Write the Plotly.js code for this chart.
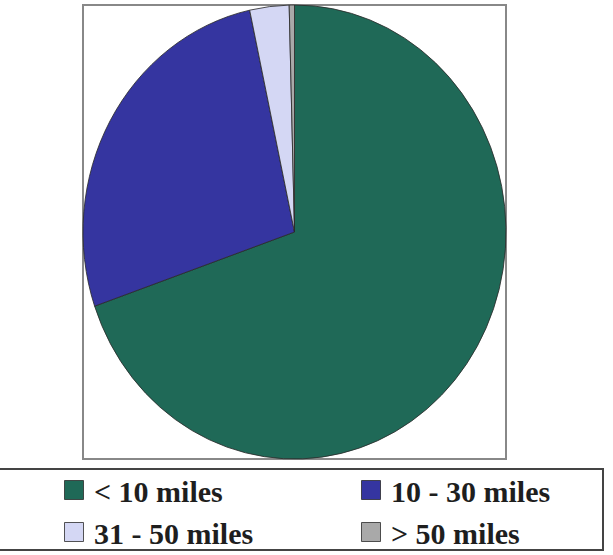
<!DOCTYPE html>
<html>
<head>
<meta charset="utf-8">
<script src="https://cdn.plot.ly/plotly-3.0.1.min.js"></script>
<style>html,body{margin:0;padding:0;background:#fff;overflow:hidden;}</style>
</head>
<body>
<div id="chart" style="width:613px;height:555px;"></div>
<script>
const categories = ["< 10 miles", "10 - 30 miles", "31 - 50 miles", "> 50 miles"];
const shares = [69.7, 26.9, 3.0, 0.4];
const colors = ["#1f6957", "#3535a0", "#d4d7f4", "#a9a9a9"];

const W = 613, H = 555;
// plot box in pixels
const box = { l: 83, r: 506, t: 5, b: 459 };
// legend frame in pixels
const legBox = { l: -4, r: 603, t: 469, b: 550 };
const legX = 52, legTop = 462;

const trace = {
  type: "pie",
  labels: categories,
  values: shares,
  sort: false,
  direction: "clockwise",
  rotation: 0,
  textinfo: "none",
  hoverinfo: "label+percent",
  marker: { colors: colors, line: { color: "#2a2a2a", width: 0.8 } },
  domain: { x: [box.l / W, box.r / W], y: [1 - box.b / H, 1 - box.t / H] }
};

const layout = {
  width: W,
  height: H,
  margin: { l: 0, r: 0, t: 0, b: 0, autoexpand: false },
  paper_bgcolor: "#ffffff",
  showlegend: true,
  legend: {
    orientation: "h",
    x: legX / W, xanchor: "left",
    y: 1 - legTop / H, yanchor: "top",
    entrywidth: 252, entrywidthmode: "pixels",
    font: { family: "Liberation Serif, Times New Roman, serif", size: 30, color: "#1e1e1e", weight: "bold" },
    bordercolor: "#444", borderwidth: 2,
    bgcolor: "#ffffff",
    itemwidth: 30,
    tracegroupgap: 0
  },
  shapes: [{
    type: "rect", xref: "paper", yref: "paper",
    x0: box.l / W, x1: box.r / W, y0: 1 - box.b / H, y1: 1 - box.t / H,
    line: { color: "#888", width: 2 }, layer: "below"
  }]
};

Plotly.newPlot("chart", [trace], layout, { displayModeBar: false, staticPlot: true }).then(function () {
  // stretch the pie vertically a little, as in the reference (elliptical pie)
  const pl = document.querySelector(".pielayer");
  if (pl) {
    const cx = (box.l + box.r) / 2, cy = (box.t + box.b) / 2;
    const sy = (box.b - box.t) / (box.r - box.l);
    pl.setAttribute("transform", "translate(" + cx + "," + cy + ") scale(1," + sy + ") translate(" + (-cx) + "," + (-cy) + ")");
  }
  // legend frame as in the reference
  const bg = document.querySelector(".legend rect.bg");
  if (bg) {
    bg.setAttribute("x", legBox.l - legX);
    bg.setAttribute("y", legBox.t - legTop);
    bg.setAttribute("width", legBox.r - legBox.l);
    bg.setAttribute("height", legBox.b - legBox.t);
  }
  // bigger legend squares
  document.querySelectorAll(".legend .legendpoints path").forEach(function (p) {
    p.setAttribute("d", "M9.5,9.5H-9.5V-9.5H9.5Z");
  });
});
</script>
</body>
</html>
